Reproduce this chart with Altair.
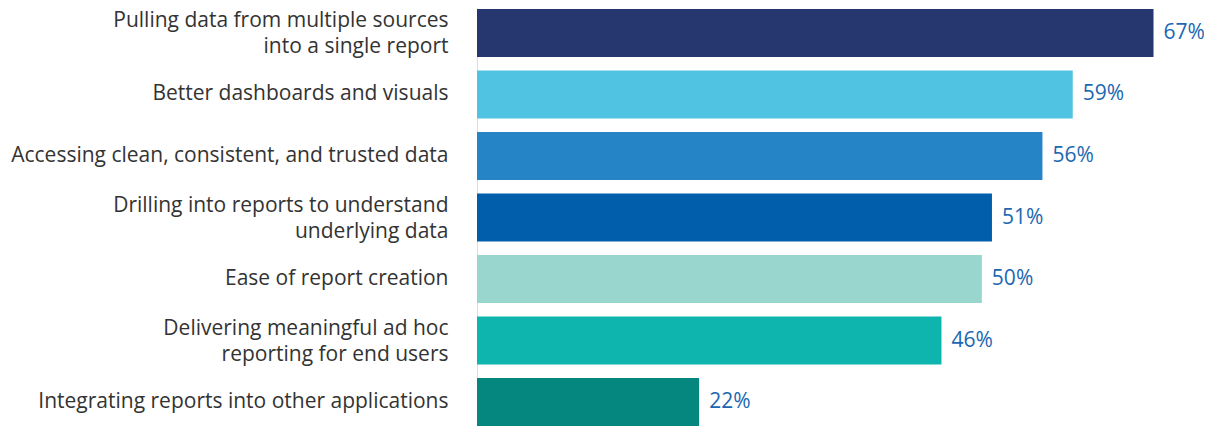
import altair as alt
import pandas as pd

categories = [
    "Pulling data from multiple sources\ninto a single report",
    "Better dashboards and visuals",
    "Accessing clean, consistent, and trusted data",
    "Drilling into reports to understand\nunderlying data",
    "Ease of report creation",
    "Delivering meaningful ad hoc\nreporting for end users",
    "Integrating reports into other applications",
]
values = [67, 59, 56, 51, 50, 46, 22]
colors = ["#26366f", "#50c3e2", "#2484c6", "#005eab", "#99d6ce", "#0db5ae", "#05867e"]

df = pd.DataFrame({"cat": categories, "val": values, "color": colors})
df["label"] = df["val"].astype(str) + "%"

y_enc = alt.Y(
    "cat:N",
    sort=categories,
    scale=alt.Scale(paddingInner=0.22, paddingOuter=0.016),
    axis=alt.Axis(
        title=None,
        ticks=False,
        domain=True,
        domainColor="#dddddd",
        domainWidth=1,
        labelFont="Open Sans",
        labelFontSize=21,
        labelColor="#333333",
        labelPadding=29,
        labelLimit=600,
        labelLineHeight=26,
        labelExpr="split(datum.label, '\\n')",
        labelOffset={"condition": {"test": "indexof(datum.label, '\\n') >= 0", "value": -12}, "value": 0},
    ),
)
x_enc = alt.X(
    "val:Q",
    scale=alt.Scale(domain=[0, 72], nice=False),
    axis=None,
)

bars = alt.Chart(df).mark_bar().encode(
    y=y_enc,
    x=x_enc,
    color=alt.Color("color:N", scale=None),
)
text = alt.Chart(df).mark_text(
    align="left", baseline="middle", dx=10, font="Open Sans", fontSize=21, color="#1b67b1"
).encode(
    y=alt.Y("cat:N", sort=categories),
    x="val:Q",
    text="label:N",
)

chart = (
    alt.layer(bars, text)
    .properties(
        width=727,
        height=419,
        autosize=alt.AutoSizeParams(type="none"),
        padding={"left": 469, "top": 0, "right": 0, "bottom": 0},
    )
    .configure_view(stroke=None)
)

chart.save("out.html", embed_options={"renderer": "svg", "actions": False})
